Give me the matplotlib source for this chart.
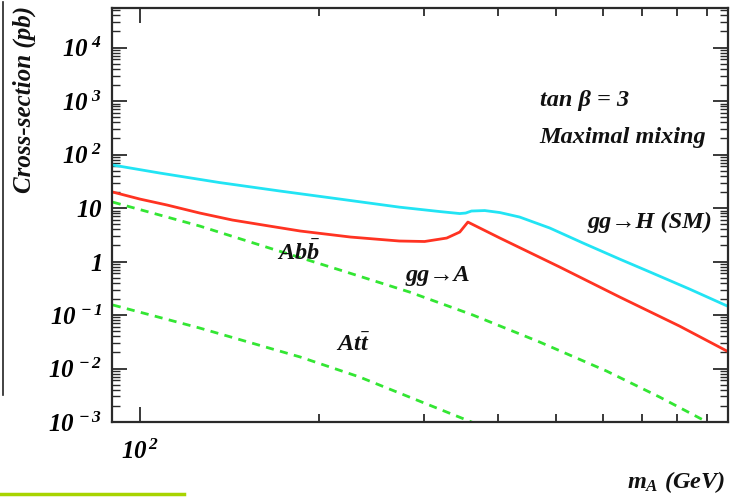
import matplotlib
matplotlib.use('Agg')
import matplotlib.pyplot as plt
from matplotlib.ticker import FixedLocator, NullFormatter
from matplotlib.lines import Line2D

# ---------------- data ----------------
ggH_mass = [90, 108, 136, 172, 217, 273, 319, 345, 353, 361, 380, 403, 435, 489, 556, 641, 720, 840, 981]
ggH_xsec = [63.7, 45.1, 30.0, 20.8, 14.7, 10.4, 8.61, 7.89, 8.07, 8.80, 8.98, 8.24, 6.79, 4.23, 2.22, 1.11, 0.64, 0.306, 0.141]

ggA_mass = [90, 100, 111, 126, 143, 165, 186, 226, 273, 301, 328, 345, 356, 403, 508, 641, 808, 985]
ggA_xsec = [19.9, 14.7, 11.4, 8.07, 5.97, 4.61, 3.72, 2.87, 2.42, 2.37, 2.75, 3.56, 5.47, 2.75, 0.79, 0.217, 0.0622, 0.0195]

Abb_mass = [90, 126, 165, 217, 284, 363, 470, 609, 748, 899, 985]
Abb_xsec = [12.9, 4.61, 1.79, 0.693, 0.269, 0.100, 0.0313, 0.00898, 0.00293, 0.001, 0.000547]

Att_mass = [90, 126, 186, 234, 281, 361, 403]
Att_xsec = [0.154, 0.0571, 0.0164, 0.00694, 0.00306, 0.001, 0.000597]

y_tick_vals = [1e-3, 1e-2, 1e-1, 1, 10, 1e2, 1e3, 1e4]
y_tick_labels = [r'$10^{\,-3}$', r'$10^{\,-2}$', r'$10^{\,-1}$', r'$1\hspace{0.85}$',
                 r'$10\hspace{0.85}$', r'$10^{\,\,2}$', r'$10^{\,\,3}$', r'$10^{\,\,4}$']
x_tick_vals = [100]
x_tick_labels = [r'$10^{\,2}$']
x_minor_vals = [200, 300, 400, 500, 600, 700, 800, 900]

# ---------------- style ----------------
plt.rcParams['mathtext.fontset'] = 'custom'
plt.rcParams['mathtext.rm'] = 'Liberation Serif:bold:italic'
plt.rcParams['mathtext.it'] = 'Liberation Serif:bold:italic'
plt.rcParams['mathtext.bf'] = 'Liberation Serif:bold:italic'
plt.rcParams['font.family'] = ['Liberation Serif', 'DejaVu Serif']
plt.rcParams['font.weight'] = 'bold'
plt.rcParams['font.style'] = 'italic'

CYAN = '#22e4f4'
RED = '#ff3322'
GREEN = '#33e633'
AX = '#2a2a2a'

fig = plt.figure(figsize=(7.31, 4.97), dpi=100)
ax = fig.add_axes([112/731, 1 - 422/497, (728 - 112)/731, (422 - 8)/497])
ax.set_xscale('log')
ax.set_yscale('log')

ax.plot(ggH_mass, ggH_xsec, color=CYAN, lw=2.0, solid_joinstyle='round')
ax.plot(ggA_mass, ggA_xsec, color=RED, lw=2.0, solid_joinstyle='round')
ax.plot(Abb_mass, Abb_xsec, color=GREEN, lw=2.0, dashes=(2.9, 2.3))
ax.plot(Att_mass, Att_xsec, color=GREEN, lw=2.0, dashes=(2.9, 2.3))

ax.set_xlim(89.7, 975)
ax.set_ylim(1e-3, 5.5e4)

# ticks
ax.xaxis.set_major_locator(FixedLocator(x_tick_vals))
ax.set_xticklabels(x_tick_labels)
ax.xaxis.set_minor_locator(FixedLocator(x_minor_vals))
ax.xaxis.set_minor_formatter(NullFormatter())
ax.yaxis.set_major_locator(FixedLocator(y_tick_vals))
ax.set_yticklabels(y_tick_labels)
minor_y = [m * 10.0**e for e in range(-3, 5) for m in range(2, 10)]
ax.yaxis.set_minor_locator(FixedLocator(minor_y))
ax.yaxis.set_minor_formatter(NullFormatter())

ax.tick_params(axis='x', which='major', direction='in', length=11, width=1.3,
               top=True, bottom=True, color=AX, labelsize=18, pad=13)
ax.tick_params(axis='x', which='minor', direction='in', length=5.5, width=1.3,
               top=True, bottom=True, color=AX)
ax.tick_params(axis='y', which='major', direction='in', length=11, width=1.3,
               left=True, right=True, color=AX, labelsize=18, pad=7)
ax.tick_params(axis='y', which='minor', direction='in', length=5.5, width=1.0,
               left=True, right=True, color=AX)
for s in ax.spines.values():
    s.set_linewidth(1.6)
    s.set_color(AX)

# annotations
tkw = dict(fontsize=17.5, fontweight='bold', fontstyle='italic', color='#111111')
ax.text(470, 1045, r'tan β = 3', va='center', ha='left', **tkw)
ax.text(470, 212, 'Maximal mixing', va='center', ha='left', **tkw)
ax.text(566, 5.47, r'gg→H (SM)', va='center', ha='left', **tkw)
ax.text(170, 1.44, r'$Ab\bar{b}$', va='center', ha='left', fontsize=17.5, color='#111111')
ax.text(279, 0.56, r'gg→A', va='center', ha='left', **tkw)
ax.text(214, 0.0275, r'$At\bar{t}$', va='center', ha='left', fontsize=17.5, color='#111111')

# axis titles
fig.text(24/731, 1 - 6/497, 'Cross-section (pb)', rotation=90, ha='center', va='top',
         fontsize=18, color='#111111')
fig.text(725/731, 1 - 482/497, r'$m_{A}\ (GeV)$', ha='right', va='center', fontsize=17.5, color='#111111')

# fragments of neighbouring page content at the image edges
fig.add_artist(Line2D([3/731, 3/731], [1 - 2/497, 1 - 395/497], color='#222222', lw=1.2))
fig.add_artist(Line2D([0, 184/731], [1 - 494/497, 1 - 494/497], color='#a8d400', lw=2.5))

fig.savefig('out.png', dpi=100)
